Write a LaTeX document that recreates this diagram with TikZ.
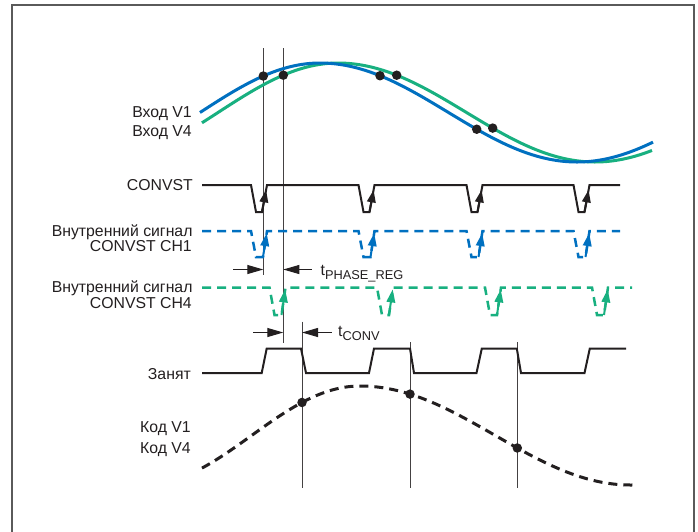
\documentclass[tikz,border=0pt]{standalone}
\usepackage{fontspec}
\setmainfont{Liberation Sans}
\usetikzlibrary{arrows.meta}
\definecolor{sigblue}{RGB}{0,112,192}
\definecolor{siggreen}{RGB}{24,176,128}
\definecolor{ink}{RGB}{35,31,32}
\definecolor{framegray}{RGB}{90,90,90}
\begin{document}
\begin{tikzpicture}[x=1pt,y=-1pt,
  declare function={
    thb(\u)=(\u<320)*((\u-200)*0.75)+(\u>=320)*(90+(\u-320)*0.7004);
    sig(\u)=112.5-49.5*sin(thb(\u));
    thc(\u)=(\u<360)*(90-(360-\u)*0.83)+(\u>=360)*(90+(\u-360)*0.665);
    code(\u)=435.5-49.5*sin(thc(\u));
  },
  lbl/.style={anchor=base east, inner sep=0pt, text=ink, font=\fontsize{15.8}{18}\selectfont},
  tlbl/.style={anchor=base west, inner sep=0pt, text=ink, font=\fontsize{15.8}{18}\selectfont},
  wave/.style={ink, line width=2pt, line join=miter},
  inblue/.style={sigblue, line width=3pt},
  ingreen/.style={siggreen, line width=3pt},
  dashblue/.style={sigblue, line width=2.5pt, dash pattern=on 9pt off 6pt},
  dashgreen/.style={siggreen, line width=2.5pt, dash pattern=on 9pt off 6pt},
  codedash/.style={ink, line width=3pt, dash pattern=on 9pt off 6pt},
  guide/.style={ink!85, line width=1pt},
  dimarrow/.style={ink, line width=1pt, -{Triangle[length=16pt,width=9pt]}},
  edgeblack/.style={ink, line width=2pt, -{Triangle[length=12.5pt,width=8.5pt]}},
  edgeblue/.style={sigblue, line width=2pt, -{Triangle[length=13pt,width=8.5pt]}},
  edgegreen/.style={siggreen, line width=2pt, -{Triangle[length=13pt,width=8.5pt]}},
  dot/.style={circle, fill=ink, inner sep=0pt, minimum size=9.5pt},
]
\useasboundingbox (0,0) rectangle (698,531);
\fill[white] (0,0) rectangle (698,531);
% frame
\draw[framegray, line width=1.8pt] (12,545) -- (12,5) -- (694.3,5) -- (694.3,545);

% labels
\node[lbl] (vin1) at (192,117.3) {Вход V1};
\node[lbl] (vin4) at (192,136) {Вход V4};
\node[lbl] (lconv) at (193,190.7) {CONVST};
\node[lbl] (lch1a) at (192.7,236) {Внутренний сигнал};
\node[lbl] (lch1b) at (192,251.7) {CONVST CH1};
\node[lbl] (lch4a) at (192.7,292.7) {Внутренний сигнал};
\node[lbl] (lch4b) at (192,308.3) {CONVST CH4};
\node[lbl] (lbusy) at (191,379.5) {Занят};
\node[lbl] (lcode1) at (191,432.6) {Код V1};
\node[lbl] (lcode4) at (191,453) {Код V4};
\node[tlbl] (tphase) at (320.5,275) {t{\fontsize{12.8}{13}\selectfont\raisebox{-4.3pt}{PHASE\_REG}}};
\node[tlbl] (tconv) at (338,336.5) {t{\fontsize{12.8}{13}\selectfont\raisebox{-4.3pt}{CONV}}};

% guide lines
\coordinate (ga1) at (263.3,48);  \coordinate (ga2) at (263.3,275);
\coordinate (gb1) at (283.3,48);  \coordinate (gb2) at (283.3,343);
\coordinate (gc1) at (302,321.7); \coordinate (gc2) at (302,488);
\coordinate (gd1) at (410,342);   \coordinate (gd2) at (410,488);
\coordinate (ge1) at (517.3,342); \coordinate (ge2) at (517.3,488);
\draw[guide] (ga1) -- (ga2);
\draw[guide] (gb1) -- (gb2);
\draw[guide] (gc1) -- (gc2);
\draw[guide] (gd1) -- (gd2);
\draw[guide] (ge1) -- (ge2);

% input sines
\draw[ingreen] plot[domain=184:634, samples=150] ({\x+18},{sig(\x)});
\draw[inblue] plot[domain=200:653, samples=150] (\x,{sig(\x)});

% sample dots on inputs
\node[dot] (s1) at (263.3,{sig(263.3)}) {};
\node[dot] (s2) at (283.3,{sig(265.3)}) {};
\node[dot] (s3) at (380,{sig(380)}) {};
\node[dot] (s4) at (396.7,{sig(378.7)}) {};
\node[dot] (s5) at (476.7,{sig(476.7)}) {};
\node[dot] (s6) at (492.7,{sig(474.7)}) {};

% CONVST
\draw[wave] (202,185) foreach \s in {251,358.5,466.5,573.5}{ -- (\s,185) -- (\s+5,212) -- (\s+11,212) -- (\s+16,185)} -- (620,185);
\foreach \s in {251,358.5,466.5,573.5}
  \draw[edgeblack] (\s+11,212) -- (\s+15.1,189.9);

% CH1
\draw[dashblue] (202,231) foreach \s in {251,358.5,466.5,573.5}{ -- (\s,231) -- (\s+5,257) -- (\s+12,257) -- (\s+16,231)} -- (620,231);
\foreach \s in {251,358.5,466.5,573.5}
  \draw[edgeblue] (\s+12,257) -- (\s+15.7,233.1);

% CH4
\draw[dashgreen] (202,287.5) foreach \s in {269.5,377,485,592}{ -- (\s,287.5) -- (\s+5,315) -- (\s+12,315) -- (\s+16,287.5)} -- (632,287.5);
\foreach \s in {269.5,377,485,592}
  \draw[edgegreen] (\s+12,315) -- (\s+15.7,289.4);

% t_PHASE_REG
\coordinate (p1) at (233,269.5); \coordinate (p1t) at (263.3,269.5);
\coordinate (p2) at (311.7,269.5); \coordinate (p2t) at (283.3,269.5);
\draw[dimarrow] (p1) -- (p1t);
\draw[dimarrow] (p2) -- (p2t);

% t_CONV
\coordinate (c1) at (253.3,332.5); \coordinate (c1t) at (283.3,332.5);
\coordinate (c2) at (331.7,332.5); \coordinate (c2t) at (302,332.5);
\draw[dimarrow] (c1) -- (c1t);
\draw[dimarrow] (c2) -- (c2t);

% Busy
\draw[wave] (202,373) -- (261.7,373) -- (266.7,348.5) -- (301,348.5) -- (306,373)
  -- (369,373) -- (374,348.5) -- (410,348.5) -- (414,373)
  -- (476.5,373) -- (481.8,348.5) -- (516.8,348.5) -- (521,373)
  -- (584.5,373) -- (589.8,348.5) -- (626,348.5);

% code curve
\draw[codedash] plot[domain=202:637, samples=150] (\x,{code(\x)});
\node[dot] (k1) at (302,{code(302)}) {};
\node[dot] (k2) at (410,{code(410)}) {};
\node[dot] (k3) at (517.3,{code(517.3)}) {};
\end{tikzpicture}
\end{document}
